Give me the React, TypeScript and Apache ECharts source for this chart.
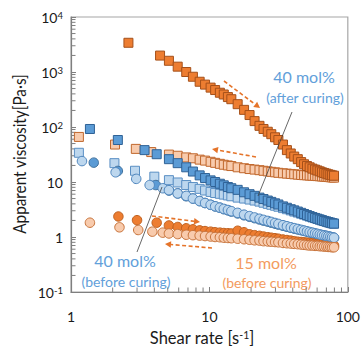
import React, { useEffect, useRef } from "react";
import * as echarts from "echarts";

// Shared shear-rate grid for the dense part of every sweep (s^-1)
const tailShear = [5.1, 5.9, 6.8, 7.6, 8.5, 9.3, 10.2, 11, 11.9, 12.7, 13.6, 14.4, 16, 17.8, 19.5, 21.2, 23, 24.6, 26.4, 28, 29.8, 31.5, 34, 36.3, 38.7, 41, 43.5, 46, 48.3, 50.7, 53, 55.5, 58, 60.3, 62.7, 65, 67.5, 70, 72.3, 74.7, 77, 79.5];

// 15 mol% after curing, increasing shear (dark orange squares)
const a15UpHead = [[2.6, 3400], [4.4, 1990]];
const a15UpTail = [1600, 1250, 1000, 820, 665, 590, 520, 470, 420, 390, 350, 320, 260, 205, 165, 128, 105, 92, 82, 74, 65, 58, 48, 38, 33, 29, 26, 23, 21, 19.5, 18.5, 17.5, 16.8, 16.2, 15.6, 15, 14.6, 14.2, 13.8, 13.5, 13.2, 13];
// 15 mol% after curing, decreasing shear (light orange squares)
const a15DnHead = [[1.14, 66], [2.08, 48], [2.94, 40], [3.8, 35]];
const a15DnTail = [31.5, 30, 28, 27, 25.5, 24.5, 23.3, 22.3, 21.4, 20.6, 20, 19.5, 18.5, 17.8, 17.2, 16.8, 16.4, 16, 15.6, 15.3, 15, 14.7, 14.4, 14.2, 14, 13.8, 13.6, 13.4, 13.3, 13.2, 13.1, 13, 12.9, 12.8, 12.7, 12.6, 12.5, 12.4, 12.3, 12.2, 12.1, 12];
// 40 mol% after curing, increasing shear (blue squares)
const a40UpHead = [[1.37, 92], [2.18, 58], [3.4, 38], [4.16, 32]];
const a40UpTail = [26, 22, 18.5, 15.5, 13.2, 11.8, 10.7, 10, 9.3, 8.7, 8.1, 7.7, 7.2, 6.5, 6, 5.6, 5.2, 4.9, 4.6, 4.35, 4.1, 3.9, 3.6, 3.4, 3.2, 3.05, 2.9, 2.75, 2.62, 2.5, 2.4, 2.3, 2.22, 2.15, 2.08, 2.02, 1.96, 1.91, 1.86, 1.82, 1.78, 1.75];
// 40 mol% after curing, decreasing shear (light blue squares)
const a40DnHead = [[1.14, 34], [2.06, 22], [2.9, 16], [4.0, 12.5]];
const a40DnTail = [10.8, 9.8, 8.8, 8.1, 7.5, 7, 6.6, 6.3, 6.1, 5.9, 5.7, 5.5, 5.2, 5, 4.8, 4.6, 4.4, 4.2, 4, 3.85, 3.7, 3.55, 3.35, 3.2, 3.05, 2.9, 2.78, 2.65, 2.55, 2.45, 2.35, 2.27, 2.2, 2.13, 2.07, 2.01, 1.95, 1.9, 1.86, 1.82, 1.78, 1.75];
// 40 mol% before curing, increasing shear (blue circles)
const b40UpHead = [[1.46, 22.5], [2.18, 15.9], [4.1, 8.8]];
const b40UpTail = [7.0, 6.2, 5.5, 5.0, 4.5, 4.15, 3.85, 3.6, 3.4, 3.2, 3.05, 2.9, 2.68, 2.48, 2.33, 2.2, 2.08, 1.98, 1.9, 1.82, 1.75, 1.68, 1.6, 1.53, 1.47, 1.42, 1.37, 1.33, 1.29, 1.25, 1.21, 1.18, 1.15, 1.12, 1.1, 1.08, 1.06, 1.04, 1.02, 1.0, 0.98, 0.97];
// 40 mol% before curing, decreasing shear (light blue circles)
const b40DnHead = [[1.2, 24], [2.1, 15], [2.96, 11.4], [3.7, 8.8], [4.6, 7.7]];
const b40DnTail = [7.1, 6.2, 5.6, 5.0, 4.5, 4.15, 3.85, 3.62, 3.42, 3.25, 3.1, 2.95, 2.75, 2.55, 2.4, 2.27, 2.15, 2.05, 1.96, 1.88, 1.8, 1.73, 1.64, 1.57, 1.5, 1.45, 1.4, 1.35, 1.31, 1.27, 1.23, 1.2, 1.17, 1.14, 1.11, 1.09, 1.07, 1.05, 1.03, 1.01, 0.99, 0.97];
// 15 mol% before curing, increasing shear (orange circles)
const b15UpHead = [[2.2, 2.36], [3.0, 2.02], [4.16, 1.82]];
const b15UpTail = [1.62, 1.52, 1.44, 1.38, 1.32, 1.28, 1.25, 1.22, 1.2, 1.18, 1.17, 1.16, 1.3, 1.22, 1.12, 1.08, 1.05, 1.02, 0.99, 0.97, 0.95, 0.93, 0.9, 0.88, 0.86, 0.84, 0.82, 0.81, 0.8, 0.79, 0.78, 0.77, 0.76, 0.75, 0.74, 0.73, 0.72, 0.72, 0.71, 0.71, 0.7, 0.7];
// 15 mol% before curing, decreasing shear (light orange circles)
const b15DnHead = [[1.37, 1.82], [2.24, 1.5], [3.06, 1.34], [3.87, 1.25], [4.6, 1.2]];
const b15DnTail = [1.16, 1.13, 1.1, 1.08, 1.06, 1.04, 1.02, 1.0, 0.99, 0.97, 0.96, 0.95, 0.93, 0.91, 0.89, 0.87, 0.86, 0.84, 0.83, 0.82, 0.81, 0.8, 0.78, 0.77, 0.76, 0.75, 0.74, 0.73, 0.72, 0.71, 0.7, 0.7, 0.69, 0.69, 0.68, 0.68, 0.67, 0.67, 0.66, 0.66, 0.65, 0.65];

const xTickValues = [1, 10, 100];
const xTickLabels = ["1", "10", "100"];
const yTickValues = [0.1, 1, 10, 100, 1000, 10000];
const yTickLabels = ["10{s|-1}", "1", "10", "10{s|2}", "10{s|3}", "10{s|4}"];

const FONT = "Lato, 'Open Sans', sans-serif";

const mk = (head: number[][], tail: number[]) => [
  ...head,
  ...tail.map((v, i) => [tailShear[i], v]),
];

const pickLabel = (vals: number[], labels: string[], v: number) => {
  const i = vals.findIndex((t) => Math.abs(Math.log10(t) - Math.log10(v)) < 1e-6);
  return i >= 0 ? labels[i] : "";
};

function arrow(x1: number, y1: number, x2: number, y2: number, color: string) {
  const dx = x2 - x1, dy = y2 - y1;
  const len = Math.sqrt(dx * dx + dy * dy);
  const ux = dx / len, uy = dy / len;
  const hl = 6, hw = 3.2;
  const bx = x2 - ux * hl, by = y2 - uy * hl;
  return [
    {
      type: "line",
      shape: { x1, y1, x2: bx, y2: by },
      style: { stroke: color, lineWidth: 1.6, lineDash: [4, 2.5] },
      z: 100,
    },
    {
      type: "polygon",
      shape: {
        points: [
          [x2, y2],
          [bx - uy * hw, by + ux * hw],
          [bx + uy * hw, by - ux * hw],
        ],
      },
      style: { fill: color },
      z: 100,
    },
  ];
}

export default function App() {
  const ref = useRef<HTMLDivElement>(null);
  useEffect(() => {
    const chart = echarts.init(ref.current!, null, { renderer: "svg" });

    const minorTicks: number[][] = [];
    for (const d of [0.1, 1, 10, 100, 1000]) {
      for (let k = 2; k <= 9; k++) minorTicks.push([1, k * d, 0]);
    }
    for (const d of [1, 10]) {
      for (let k = 2; k <= 9; k++) minorTicks.push([k * d, 0.1, 1]);
    }

    const sq = (name: string, data: number[][], fill: string, border: string) => ({
      name,
      type: "scatter",
      symbol: "rect",
      symbolSize: 9,
      data,
      itemStyle: { color: fill, borderColor: border, borderWidth: 1, opacity: 1 },
      silent: true,
    });
    const ci = (name: string, data: number[][], fill: string, border: string) => ({
      name,
      type: "scatter",
      symbol: "circle",
      symbolSize: 9.5,
      data,
      itemStyle: { color: fill, borderColor: border, borderWidth: 1, opacity: 1 },
      silent: true,
    });

    const blueTxt = "#62A0DA";
    const orangeTxt = "#F39B60";
    const arrowCol = "#E5742A";

    chart.setOption({
      animation: false,
      textStyle: { fontFamily: FONT },
      grid: {
        left: 71,
        right: 12,
        top: 17,
        bottom: 57,
        show: true,
        borderColor: "#A6A6A6",
        borderWidth: 1.2,
      },
      xAxis: {
        type: "log",
        logBase: 10,
        min: 1,
        max: 100,
        axisLine: { lineStyle: { color: "#7F7F7F", width: 1.2 } },
        axisTick: { inside: true, length: 5, lineStyle: { color: "#7F7F7F" } },
        splitLine: { show: false },
        axisLabel: {
          margin: 17,
          fontSize: 14,
          color: "#1a1a1a",
          fontFamily: FONT,
          formatter: (v: number) => pickLabel(xTickValues, xTickLabels, v),
        },
      },
      yAxis: {
        type: "log",
        logBase: 10,
        min: 0.1,
        max: 10000,
        axisLine: { lineStyle: { color: "#7F7F7F", width: 1.2 } },
        axisTick: { inside: true, length: 5, lineStyle: { color: "#7F7F7F" } },
        splitLine: { show: false },
        axisLabel: {
          margin: 8,
          fontSize: 14,
          color: "#1a1a1a",
          fontFamily: FONT,
          formatter: (v: number) => pickLabel(yTickValues, yTickLabels, v),
          rich: {
            s: { fontSize: 9.5, verticalAlign: "top", padding: [0, 0, 3, 0], fontFamily: FONT, color: "#1a1a1a" },
          },
        },
      },
      series: [
        {
          type: "custom",
          silent: true,
          clip: false,
          data: minorTicks,
          encode: { x: 0, y: 1 },
          renderItem: (_p: any, api: any) => {
            const pt = api.coord([api.value(0), api.value(1)]);
            const kind = api.value(2);
            return {
              type: "line",
              shape:
                kind === 0
                  ? { x1: pt[0], y1: pt[1], x2: pt[0] + 4.5, y2: pt[1] }
                  : { x1: pt[0], y1: pt[1], x2: pt[0], y2: pt[1] - 4.5 },
              style: { stroke: "#7F7F7F", lineWidth: 1 },
            };
          },
          z: 1,
        },
        sq("15 mol% after curing (down)", mk(a15DnHead, a15DnTail), "#F8CBAD", "#C0672C"),
        sq("40 mol% after curing (down)", mk(a40DnHead, a40DnTail), "#BDD7EE", "#5A8FC4"),
        sq("40 mol% after curing (up)", mk(a40UpHead, a40UpTail), "#5B9BD5", "#2F6296"),
        sq("15 mol% after curing (up)", mk(a15UpHead, a15UpTail), "#ED7D31", "#A5501A"),
        ci("40 mol% before curing (up)", mk(b40UpHead, b40UpTail), "#5B9BD5", "#41719C"),
        ci("15 mol% before curing (up)", mk(b15UpHead, b15UpTail), "#ED7D31", "#C0601E"),
        ci("40 mol% before curing (down)", mk(b40DnHead, b40DnTail), "#BDD7EE", "#4F86BE"),
        ci("15 mol% before curing (down)", mk(b15DnHead, b15DnTail), "#F8CBAD", "#C8733A"),
      ],
      graphic: [
        {
          type: "text",
          x: 19,
          y: 154,
          rotation: Math.PI / 2,
          scaleX: 0.9,
          style: {
            text: "Apparent viscosity[Pa·s]",
            font: `17px ${FONT}`,
            fill: "#1a1a1a",
            align: "center",
            verticalAlign: "middle",
          },
        },
        {
          type: "text",
          x: 202,
          y: 338,
          style: {
            text: "Shear rate [s{s|-1}]",
            font: `16.5px ${FONT}`,
            fill: "#1a1a1a",
            align: "center",
            verticalAlign: "middle",
            rich: {
              s: { fontSize: 10.5, verticalAlign: "top", fontFamily: FONT, fill: "#1a1a1a" },
            },
          },
        },
        { type: "text", x: 304, y: 76, style: { text: "40 mol%", font: `16px ${FONT}`, fill: blueTxt, align: "center", verticalAlign: "middle" } },
        { type: "text", x: 305, y: 97, style: { text: "(after curing)", font: `14px ${FONT}`, fill: blueTxt, align: "center", verticalAlign: "middle" } },
        { type: "text", x: 125, y: 260, style: { text: "40 mol%", font: `16px ${FONT}`, fill: blueTxt, align: "center", verticalAlign: "middle" } },
        { type: "text", x: 126, y: 281, style: { text: "(before curing)", font: `14px ${FONT}`, fill: blueTxt, align: "center", verticalAlign: "middle" } },
        { type: "text", x: 266, y: 262, style: { text: "15 mol%", font: `16px ${FONT}`, fill: orangeTxt, align: "center", verticalAlign: "middle" } },
        { type: "text", x: 267, y: 282, style: { text: "(before curing)", font: `14px ${FONT}`, fill: orangeTxt, align: "center", verticalAlign: "middle" } },
        { type: "line", shape: { x1: 292, y1: 112, x2: 258, y2: 196 }, style: { stroke: "#404040", lineWidth: 0.8 }, z: 100 },
        { type: "line", shape: { x1: 137, y1: 252, x2: 162, y2: 187 }, style: { stroke: "#404040", lineWidth: 0.8 }, z: 100 },
        ...arrow(224, 81, 260, 108, arrowCol),
        ...arrow(256, 157, 212, 149, arrowCol),
        ...arrow(152, 216, 200, 222, arrowCol),
        ...arrow(212, 248, 165, 244, arrowCol),
      ],
    });
    return () => chart.dispose();
  }, []);
  return (
    <div
      ref={ref}
      style={{ position: "absolute", left: 0, top: 0, width: 363, height: 349 }}
    />
  );
}
